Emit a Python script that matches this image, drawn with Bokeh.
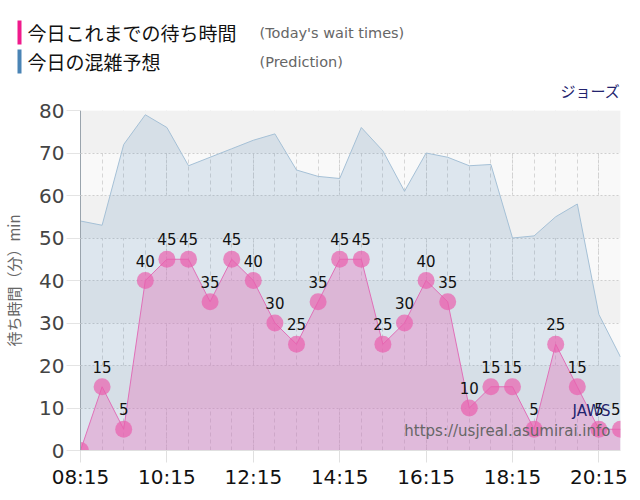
from bokeh.plotting import figure
from bokeh.models import ColumnDataSource, Label, FixedTicker, Range1d
from bokeh.layouts import column, row
from bokeh.core.properties import value
from bokeh.embed import file_html
from bokeh.resources import INLINE

times = ["08:15", "08:45", "09:15", "09:45", "10:15", "10:45", "11:15", "11:45",
         "12:15", "12:45", "13:15", "13:45", "14:15", "14:45", "15:15", "15:45",
         "16:15", "16:45", "17:15", "17:45", "18:15", "18:45", "19:15", "19:45",
         "20:15", "20:45"]
waits = [0, 15, 5, 40, 45, 45, 35, 45, 40, 30, 25, 35, 45, 45, 25, 30,
         40, 35, 10, 15, 15, 5, 25, 15, 5, 5]
prediction = [54, 53, 72, 79, 76, 67, 69, 71, 73, 74.5, 66, 64.5, 64, 76, 70.5, 61,
              70, 69, 67, 67.3, 50, 50.5, 55, 58, 32, 22]
tick_labels = ["08:15", "10:15", "12:15", "14:15", "16:15", "18:15", "20:15"]
y_ticks = [0, 10, 20, 30, 40, 50, 60, 70, 80]
series_names = ["今日これまでの待ち時間", "今日の混雑予想"]
series_notes = ["(Today's wait times)", "(Prediction)"]
series_colors = ["#f01a8c", "#4a84b5"]
ride_name = "ジョーズ"
ride_name_en = "JAWS"
site = "https://usjreal.asumirai.info"


def to_min(t):
    h, m = t.split(":")
    return int(h) * 60 + int(m)


W = 632
HH = 100

# ---------- header ----------
hdr = figure(width=W, height=HH, output_backend="svg", toolbar_location=None,
             x_range=Range1d(0, W), y_range=Range1d(HH, 0),
             x_axis_location=None, y_axis_location=None,
             min_border=0, min_border_left=0, min_border_right=0,
             min_border_top=0, min_border_bottom=0)
hdr.grid.visible = False
hdr.outline_line_color = None
hdr.background_fill_color = "white"
hdr.border_fill_color = "white"

rows_y = [32, 61]
hdr.quad(left=[17, 17], right=[21, 21], top=[y - 12 for y in rows_y],
         bottom=[y + 12 for y in rows_y], fill_color=series_colors, line_color=None)
for yy, name, note in zip(rows_y, series_names, series_notes):
    hdr.add_layout(Label(x=27, y=yy, text=name, text_font="Noto Sans CJK JP",
                         text_font_size="19px", text_color="#111111", text_baseline="middle"))
    hdr.add_layout(Label(x=259, y=yy, text=note, text_font="DejaVu Sans",
                         text_font_size="14.5px", text_color="#666666", text_baseline="middle"))
hdr.add_layout(Label(x=620, y=90, text=ride_name, text_font="Noto Sans CJK JP",
                     text_font_size="15px", text_color="#23236e", text_align="right",
                     text_baseline="middle"))

# ---------- main chart ----------
xs = [to_min(t) for t in times]
aligns = ["center"] * (len(xs) - 1) + ["right"]
src = ColumnDataSource(dict(x=xs, w=waits, p=prediction,
                            lbl=[str(v) if v else "" for v in waits],
                            al=aligns, zero=[0] * len(xs)))

p = figure(width=W, height=392, output_backend="svg", toolbar_location=None,
           x_range=Range1d(xs[0], xs[-1]), y_range=Range1d(0, 80),
           min_border_left=80, min_border_right=12, min_border_top=10,
           min_border_bottom=42)
p.outline_line_color = None
p.background_fill_color = "#f9f9f9"
p.border_fill_color = "white"

p.varea(x="x", y1="zero", y2="p", source=src, fill_color="#4682b4", fill_alpha=0.155)
p.line(x="x", y="p", source=src, line_color="#a5c0d6", line_width=1)
p.varea(x="x", y1="zero", y2="w", source=src, fill_color="#e678be", fill_alpha=0.4)
p.line(x="x", y="w", source=src, line_color="#e070b8", line_width=1)
p.scatter(x="x", y="w", source=src, size=17, fill_color="#ea5fae", fill_alpha=0.7,
          line_color=None)
p.text(x="x", y="w", text="lbl", source=src, text_align="al", text_baseline="middle",
       y_offset=-20, text_font_size="15px", text_color="#111111",
       text_font=value("DejaVu Sans"))

major = [to_min(t) for t in tick_labels]
p.xaxis.ticker = FixedTicker(ticks=major, minor_ticks=xs)
p.xaxis.major_label_overrides = {m: t for m, t in zip(major, tick_labels)}
p.xaxis.major_label_text_font_size = "20px"
p.xaxis.major_label_text_color = "#111111"
p.xaxis.major_label_text_font = "DejaVu Sans"
p.xaxis.axis_line_color = "#e0e0e0"
p.xaxis.major_tick_line_color = "#e0e0e0"
p.xaxis.major_tick_out = 12
p.xaxis.major_tick_in = 0
p.xaxis.minor_tick_line_color = None
p.xaxis.major_label_standoff = 2

p.yaxis.ticker = FixedTicker(ticks=y_ticks)
p.yaxis.major_label_text_font_size = "20px"
p.yaxis.major_label_text_color = "#444444"
p.yaxis.major_label_text_font = "DejaVu Sans"
p.yaxis.axis_line_color = "#9aa4ad"
p.yaxis.major_tick_line_color = "#e4e4e4"
p.yaxis.major_tick_out = 14
p.yaxis.major_tick_in = 0
p.yaxis.minor_tick_line_color = None
p.yaxis.major_label_standoff = 2
p.yaxis.axis_label = "待ち時間（分）min"
p.yaxis.axis_label_text_font = "Noto Sans CJK JP"
p.yaxis.axis_label_text_font_style = "normal"
p.yaxis.axis_label_text_font_size = "15px"
p.yaxis.axis_label_text_color = "#666666"
p.yaxis.axis_label_standoff = 12

p.xgrid.grid_line_color = "#d0d0d0"
p.xgrid.grid_line_dash = "2 2"
p.xgrid.minor_grid_line_color = "#d6d6d6"
p.xgrid.minor_grid_line_dash = "4 3"
p.ygrid.grid_line_color = "#cfcfcf"
p.ygrid.grid_line_dash = "2 2"
p.ygrid.band_fill_color = "#f1f1f1"
p.ygrid.band_fill_alpha = 1.0

p.add_layout(Label(x=530, y=9.4, text=ride_name_en, text_font="DejaVu Sans",
                   text_font_size="15px", text_color="#23236e", text_align="right",
                   text_baseline="middle", x_units="screen", y_units="data"))
p.add_layout(Label(x=530, y=4.7, text=site, text_font="DejaVu Sans",
                   text_font_size="15px", text_color="#666666", text_align="right",
                   text_baseline="middle", x_units="screen", y_units="data"))

layout = column(row(hdr), p, spacing=0)
open("out.html", "w").write(file_html(layout, INLINE))
